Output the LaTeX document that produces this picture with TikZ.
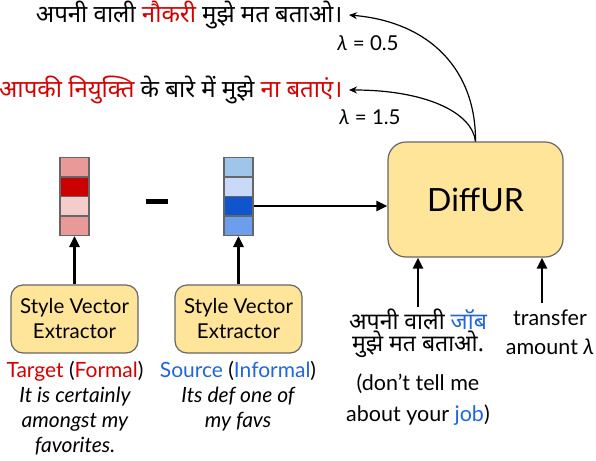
\documentclass[tikz,border=0pt]{standalone}
\usepackage{fontspec}
\setmainfont{Lato}
\newfontfamily\deva[Script=Devanagari]{Noto Sans}
\usetikzlibrary{positioning,arrows.meta}
\definecolor{boxfill}{HTML}{FFE599}
\definecolor{boxline}{HTML}{666666}
\definecolor{redA}{HTML}{EA9999}
\definecolor{redB}{HTML}{CC0000}
\definecolor{redC}{HTML}{F4CCCC}
\definecolor{blueA}{HTML}{9FC5E8}
\definecolor{blueB}{HTML}{C9DAF8}
\definecolor{blueC}{HTML}{1155CC}
\definecolor{blueD}{HTML}{6D9EEB}
\definecolor{txtred}{HTML}{D50000}
\definecolor{txtblue}{HTML}{2266D8}
\begin{document}
\begin{tikzpicture}[x=1pt,y=-1pt,
  every node/.style={font=\fontsize{20.5}{25}\selectfont},
  box/.style={draw=boxline,fill=boxfill,line width=1.2pt,rounded corners=12pt,align=center},
  cell/.style={draw=boxline,line width=1.5pt,minimum width=29pt,minimum height=19.5pt,inner sep=0pt},
  arr/.style={line width=2.6pt,-{Triangle[length=11pt,width=10pt]}},
  cur/.style={line width=1.2pt,-{Stealth[length=8pt,width=7pt]}}]
  \fill[white] (0,0) rectangle (596,460);
  \useasboundingbox (0,0) rectangle (596,460);
  % style vectors
  \foreach \c [count=\i] in {redA,redB,redC,redA}
    \node[cell,fill=\c] (t\i) at (74.5,{147.5+19.5*\i}) {};
  \foreach \c [count=\i] in {blueA,blueB,blueC,blueD}
    \node[cell,fill=\c] (s\i) at (238.5,{147.5+19.5*\i}) {};
  \node[fill=black,minimum width=22pt,minimum height=5pt,inner sep=0pt] (minus) at (157,201) {};
  % extractors and model
  \node[box,minimum width=127pt,minimum height=68pt] (extT) at (74.5,319) {Style Vector\\Extractor};
  \node[box,minimum width=127pt,minimum height=68pt] (extS) at (238.5,319) {Style Vector\\Extractor};
  \node[box,minimum width=175pt,minimum height=115pt,rounded corners=18pt,
        font=\fontsize{32}{40}\selectfont] (diffur) at (475.5,199.5) {DiffUR};
  % texts
  \node[anchor=north,align=center,font=\fontsize{21}{25}\selectfont] (labT) at (75,358)
    {\textcolor{txtred}{Target} (\textcolor{txtred}{Formal})\\{\itshape It is certainly}\\{\itshape amongst my}\\{\itshape favorites.}};
  \node[anchor=north,align=center,font=\fontsize{21}{25}\selectfont] (labS) at (238,358)
    {\textcolor{txtblue}{Source} (\textcolor{txtblue}{Informal})\\{\itshape Its def one of}\\{\itshape my favs}};
  \node[anchor=north,align=center,font=\fontsize{21.5}{22}\selectfont] (inp) at (418,305)
    {{\deva\fontsize{23}{22}\selectfont अपनी वाली \textcolor{txtblue}{जॉब}}\\{\deva\fontsize{23}{22}\selectfont मुझे मत बताओ.}\\[16pt](don’t tell me\\[9pt]about your \textcolor{txtblue}{job})};
  \node[anchor=north,align=center,font=\fontsize{21.5}{29}\selectfont] (amt) at (550,306)
    {transfer\\amount \textit{λ}};
  \coordinate (amtTop) at (542,303);
  \node[anchor=east,font=\deva\fontsize{24}{28}\selectfont] (out1) at (346,15)
    {अपनी वाली \textcolor{txtred}{नौकरी} मुझे मत बताओ।};
  \node[anchor=east,font=\deva\fontsize{24}{28}\selectfont] (out2) at (346,90)
    {\textcolor{txtred}{आपकी नियुक्ति} के बारे में मुझे \textcolor{txtred}{ना बताएं।}};
  \node (lam1) at (368,43) {\textit{λ} = 0.5};
  \node (lam2) at (370,117) {\textit{λ} = 1.5};
  % connectors
  \draw[arr] (extT) -- (t4);
  \draw[arr] (extS) -- (s4);
  \draw[arr] (s3.east) -- (s3 -| diffur.west);
  \draw[arr] ([yshift=-2pt]inp.north) -- (inp.north |- diffur.south);
  \draw[arr] (amtTop) -- (amtTop |- diffur.south);
  \draw[cur] (diffur.north) .. controls (476,70) and (430,22) .. ([xshift=3pt]out1.east);
  \draw[cur] (diffur.north) .. controls (472,112) and (425,90) .. ([xshift=3pt]out2.east);
\end{tikzpicture}
\end{document}
